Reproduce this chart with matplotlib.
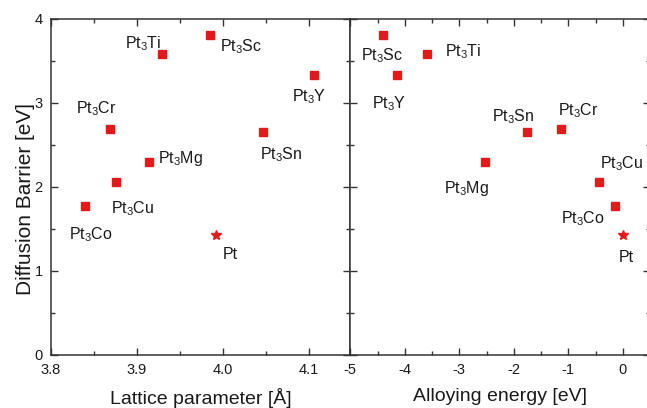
import matplotlib
matplotlib.use("Agg")
import matplotlib.pyplot as plt
from matplotlib.ticker import MultipleLocator

plt.rcParams['font.family'] = ['Liberation Sans', 'DejaVu Sans']
plt.rcParams['mathtext.fontset'] = 'custom'
plt.rcParams['mathtext.rm'] = 'Liberation Sans'
plt.rcParams['axes.unicode_minus'] = False

# ---- data ----
elements = ['Ti', 'Sc', 'Y', 'Cr', 'Sn', 'Mg', 'Cu', 'Co']
lattice = [3.929, 3.985, 4.106, 3.869, 4.047, 3.914, 3.875, 3.840]
alloying = [-3.59, -4.40, -4.14, -1.14, -1.75, -2.52, -0.44, -0.14]
barrier = [3.58, 3.81, 3.33, 2.69, 2.66, 2.30, 2.06, 1.77]
pt_lattice = 3.992
pt_alloying = 0.0
pt_barrier = 1.425

# ---- label offsets (pixels: text left edge / baseline relative to point) ----
off_left = {'Ti': (-37, 6), 'Sc': (10, -16), 'Y': (-22, -26), 'Cr': (-34, 16),
            'Sn': (-3, -28), 'Mg': (9, -1), 'Cu': (-5, -31), 'Co': (-16, -33),
            'Pt': (7, -23.5)}
off_right = {'Ti': (18, -2.4), 'Sc': (-22, -25), 'Y': (-25, -33), 'Cr': (-3, 14),
             'Sn': (-35, 10), 'Mg': (-41, -31), 'Cu': (1, 13.5), 'Co': (-54, -17),
             'Pt': (-4, -27)}

red = '#e41a1a'
txtc = '#1a1a1a'
spc = '#333333'

fig = plt.figure(figsize=(6.47, 4.08), dpi=100)
H = 336 / 408
B = 53 / 408
axL = fig.add_axes([51 / 647, B, 299.3 / 647, H])
axR = fig.add_axes([350.3 / 647, B, 299.7 / 647, H])

def label(el):
    return r'Pt$_\mathregular{3}$' + el

for ax, xs, px, offs in [(axL, lattice, pt_lattice, off_left),
                         (axR, alloying, pt_alloying, off_right)]:
    ax.plot(xs, barrier, ls='none', marker='s', ms=5.5, color=red, mec=red)
    ax.plot([px], [pt_barrier], ls='none', marker='*', ms=7, color=red, mec=red)
    for el, x, y in zip(elements, xs, barrier):
        dx, dy = offs[el]
        ax.annotate(label(el), (x, y), xytext=(dx, dy), textcoords='offset pixels',
                    ha='left', va='baseline', fontsize=11.5, color=txtc)
    dx, dy = offs['Pt']
    ax.annotate('Pt', (px, pt_barrier), xytext=(dx, dy), textcoords='offset pixels',
                ha='left', va='baseline', fontsize=11.5, color=txtc)
    ax.set_ylim(0, 4)
    ax.yaxis.set_major_locator(MultipleLocator(1))
    ax.yaxis.set_minor_locator(MultipleLocator(0.5))
    ax.tick_params(which='both', direction='in', top=True, right=True,
                   colors=spc, labelcolor=txtc, labelsize=10.5, width=1)
    ax.tick_params(which='major', length=5, pad=6)
    ax.tick_params(which='minor', length=3)
    for s in ax.spines.values():
        s.set_color(spc)
        s.set_linewidth(1.1)

axL.set_xlim(3.8, 4.148)
axL.xaxis.set_minor_locator(MultipleLocator(0.05))
axL.set_xticks([3.8, 3.9, 4.0, 4.1])
axL.set_xticklabels(['3.8', '3.9', '4.0', '4.1'])
axL.set_xlabel('Lattice parameter [Å]', fontsize=14, color=txtc, labelpad=8)
axL.set_ylabel('Diffusion Barrier [eV]', fontsize=15, color=txtc)
axL.yaxis.set_label_coords(-0.053, 0.464)

axR.set_xlim(-5, 0.5)
axR.xaxis.set_major_locator(MultipleLocator(1))
axR.xaxis.set_minor_locator(MultipleLocator(0.5))
axR.tick_params(labelleft=False)
axR.set_xlabel('Alloying energy [eV]', fontsize=14, color=txtc, labelpad=8)

fig.savefig('out.png', dpi=100)
